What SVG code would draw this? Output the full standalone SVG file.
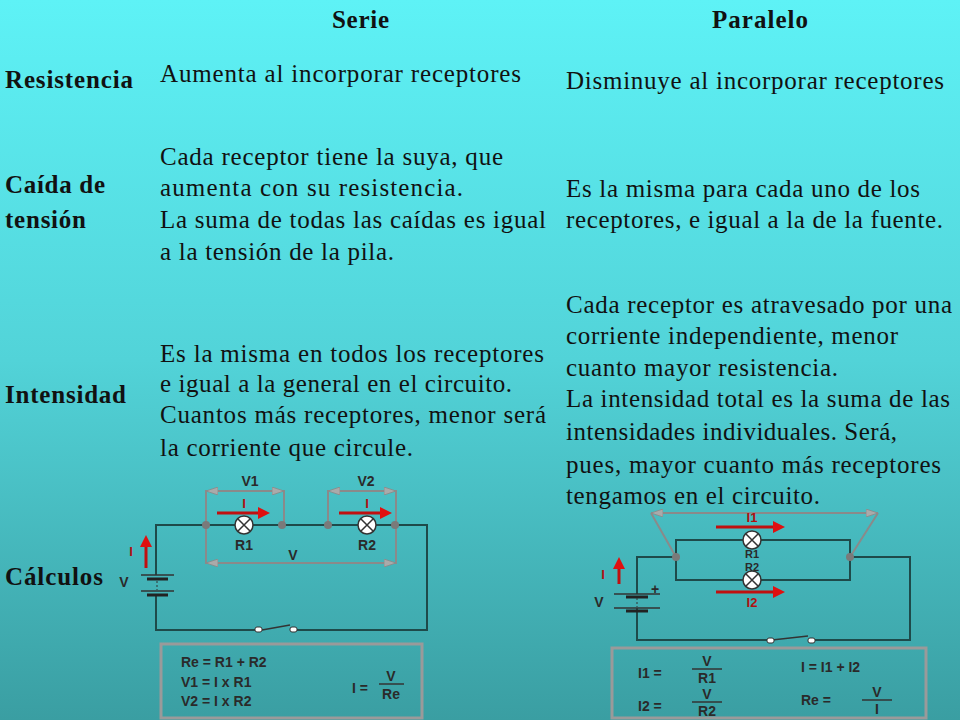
<svg xmlns="http://www.w3.org/2000/svg" width="960" height="720" viewBox="0 0 960 720">
<defs>
<linearGradient id="bg" x1="0" y1="0" x2="0" y2="1">
<stop offset="0" stop-color="#5ef2f6"/><stop offset="0.5" stop-color="#52d3d8"/><stop offset="1" stop-color="#3a9ea2"/>
</linearGradient>
<marker id="ra" markerWidth="4" markerHeight="4" refX="2" refY="2" orient="auto"><path d="M0,0 L4,2 L0,4z" fill="#e01010"/></marker>
<marker id="ga" markerWidth="6" markerHeight="4" refX="6" refY="2" orient="auto-start-reverse"><path d="M0,0 L6,2 L0,4z" fill="#aaa" stroke="#888" stroke-width="0.4"/></marker>
</defs>
<style>
.t{font-family:"Liberation Serif","Times New Roman",serif;font-size:25px;fill:#111}
.b{font-weight:bold}
.c{font-family:"Liberation Sans",Arial,sans-serif;font-weight:bold;font-size:14px;fill:#2a2a2a}
.s{font-size:11px}
.cr{font-family:"Liberation Sans",Arial,sans-serif;font-weight:bold;font-size:13px;fill:#b01010}
.w{stroke:#1e4a4a;stroke-width:2;fill:none}
.g{stroke:#8a8a8a;stroke-width:2;fill:none}
.ar{stroke:#c01010;stroke-width:3;fill:none}
.nd{fill:#7a7a7a}
.lamp{fill:#fff;stroke:#333;stroke-width:1.5}
.box{fill:none;stroke:#9a9a9a;stroke-width:3}
</style>
<rect width="960" height="720" fill="url(#bg)"/>
<g id="headers">
<text class="t b" x="332" y="28" textLength="57">Serie</text>
<text class="t b" x="712" y="28" textLength="96">Paralelo</text>
<text class="t b" x="5" y="88" textLength="128">Resistencia</text>
<text class="t b" x="5" y="193" textLength="100">Caída de</text>
<text class="t b" x="5" y="228" textLength="81">tensión</text>
<text class="t b" x="5" y="403" textLength="121">Intensidad</text>
<text class="t b" x="5" y="585" textLength="98">Cálculos</text>
</g>
<g id="serie-text">
<text class="t" x="160" y="82" textLength="361">Aumenta al incorporar receptores</text>
<text class="t" x="160" y="165" textLength="343">Cada receptor tiene la suya, que</text>
<text class="t" x="160" y="196" textLength="303">aumenta con su resistencia.</text>
<text class="t" x="160" y="228" textLength="386">La suma de todas las caídas es igual</text>
<text class="t" x="160" y="260" textLength="234">a la tensión de la pila.</text>
<text class="t" x="160" y="362" textLength="384">Es la misma en todos los receptores</text>
<text class="t" x="160" y="392" textLength="352">e igual a la general en el circuito.</text>
<text class="t" x="160" y="423" textLength="386">Cuantos más receptores, menor será</text>
<text class="t" x="160" y="456" textLength="253">la corriente que circule.</text>
</g>
<g id="series-circuit">
<path class="w" d="M156,575 V525 H427 V630 H293 M258,630 H156 V595"/>
<path class="g" d="M206,525 V491 H284 V525 M328,525 V491 H396 V525 M206,525 V563 H396 V525"/>
<path class="g" d="M206,491 H284" marker-start="url(#ga)" marker-end="url(#ga)"/>
<path class="g" d="M328,491 H396" marker-start="url(#ga)" marker-end="url(#ga)"/>
<path class="g" d="M206,563 H396" marker-start="url(#ga)" marker-end="url(#ga)"/>
<circle class="nd" cx="206" cy="525" r="4"/><circle class="nd" cx="282" cy="525" r="4"/>
<circle class="nd" cx="328" cy="525" r="4"/><circle class="nd" cx="395" cy="525" r="4"/>
<g class="lamp"><circle cx="244" cy="525" r="9"/><path d="M238,519 L250,531 M250,519 L238,531"/></g>
<g class="lamp"><circle cx="367" cy="525" r="9"/><path d="M361,519 L373,531 M373,519 L361,531"/></g>
<path class="ar" d="M217,513 H264" marker-end="url(#ra)"/>
<path class="ar" d="M339,513 H386" marker-end="url(#ra)"/>
<path class="ar" d="M146,568 V541" marker-end="url(#ra)"/>
<text class="cr" x="244" y="508" text-anchor="middle">I</text>
<text class="cr" x="367" y="508" text-anchor="middle">I</text>
<text class="cr" x="131" y="556" text-anchor="middle">I</text>
<text class="c" x="250" y="486" text-anchor="middle">V1</text>
<text class="c" x="366" y="486" text-anchor="middle">V2</text>
<text class="c" x="244" y="550" text-anchor="middle">R1</text>
<text class="c" x="367" y="550" text-anchor="middle">R2</text>
<text class="c" x="293" y="560" text-anchor="middle">V</text>
<text class="c" x="124" y="587" text-anchor="middle">V</text>
<path d="M141,575 H174 M141,591 H174" stroke="#333" stroke-width="1.5"/>
<path d="M147,579 H168 M147,595 H168" stroke="#222" stroke-width="3"/>
<path d="M157,581 V590" stroke="#333" stroke-width="1" stroke-dasharray="2,2"/>
<path d="M262,630 L290,625" stroke="#333" stroke-width="1.5"/>
<rect x="255" y="627" width="7" height="5" rx="2" fill="#fff" stroke="#333"/>
<rect x="290" y="627" width="7" height="5" rx="2" fill="#fff" stroke="#333"/>
<rect class="box" x="161" y="644" width="261" height="74"/>
<text class="c" x="181" y="667">Re = R1 + R2</text>
<text class="c" x="181" y="687">V1 = I x R1</text>
<text class="c" x="181" y="706">V2 = I x R2</text>
<text class="c" x="352" y="693">I =</text>
<text class="c" x="391" y="681" text-anchor="middle">V</text>
<path d="M379,684 H404" stroke="#333" stroke-width="1.5"/>
<text class="c" x="391" y="699" text-anchor="middle">Re</text>
</g>
<g id="parallel-circuit">
<path class="w" d="M637,594 V557 H676 M850,557 H910 V640 H814 M768,640 H637 V608 M676,540 V580 H850 V540 Z"/>
<path class="g" d="M676,557 L651,513 M878,513 L850,557"/>
<path class="g" d="M651,513 H878" marker-start="url(#ga)" marker-end="url(#ga)"/>
<circle class="nd" cx="676" cy="557" r="4"/><circle class="nd" cx="850" cy="557" r="4"/>
<g class="lamp"><circle cx="752" cy="540" r="9"/><path d="M746,534 L758,546 M758,534 L746,546"/></g>
<g class="lamp"><circle cx="752" cy="580" r="9"/><path d="M746,574 L758,586 M758,574 L746,586"/></g>
<path class="ar" d="M716,527 H779" marker-end="url(#ra)"/>
<path class="ar" d="M716,592 H779" marker-end="url(#ra)"/>
<path class="ar" d="M619,584 V563" marker-end="url(#ra)"/>
<text class="cr" x="752" y="522" text-anchor="middle">I1</text>
<text class="cr" x="752" y="607" text-anchor="middle">I2</text>
<text class="cr" x="603" y="579" text-anchor="middle">I</text>
<text class="c s" x="752" y="558" text-anchor="middle">R1</text>
<text class="c s" x="752" y="571" text-anchor="middle">R2</text>
<text class="c" x="599" y="607" text-anchor="middle">V</text>
<text class="c" x="655" y="594" text-anchor="middle">+</text>
<path d="M614,594 H660 M614,608 H660" stroke="#333" stroke-width="1.5"/>
<path d="M626,597 H648 M626,611 H648" stroke="#222" stroke-width="3"/>
<path d="M637,598 V607" stroke="#333" stroke-width="1" stroke-dasharray="2,2"/>
<path d="M772,640 L808,636" stroke="#333" stroke-width="1.5"/>
<rect x="767" y="638" width="7" height="5" rx="2" fill="#fff" stroke="#333"/>
<rect x="808" y="638" width="7" height="5" rx="2" fill="#fff" stroke="#333"/>
<rect class="box" x="612" y="648" width="314" height="70"/>
<text class="c" x="638" y="678">I1 =</text>
<text class="c" x="707" y="666" text-anchor="middle">V</text>
<path d="M692,669 H722" stroke="#333" stroke-width="1.5"/>
<text class="c" x="707" y="683" text-anchor="middle">R1</text>
<text class="c" x="638" y="711">I2 =</text>
<text class="c" x="707" y="699" text-anchor="middle">V</text>
<path d="M692,702 H722" stroke="#333" stroke-width="1.5"/>
<text class="c" x="707" y="716" text-anchor="middle">R2</text>
<text class="c" x="801" y="672">I = I1 + I2</text>
<text class="c" x="801" y="705">Re =</text>
<text class="c" x="877" y="697" text-anchor="middle">V</text>
<path d="M862,700 H892" stroke="#333" stroke-width="1.5"/>
<text class="c" x="877" y="714" text-anchor="middle">I</text>
</g>
<g id="paralelo-text">
<text class="t" x="566" y="89" textLength="378">Disminuye al incorporar receptores</text>
<text class="t" x="566" y="197" textLength="354">Es la misma para cada uno de los</text>
<text class="t" x="566" y="228" textLength="377">receptores, e igual a la de la fuente.</text>
<text class="t" x="566" y="313" textLength="386">Cada receptor es atravesado por una</text>
<text class="t" x="566" y="344" textLength="332">corriente independiente, menor</text>
<text class="t" x="566" y="376" textLength="272">cuanto mayor resistencia.</text>
<text class="t" x="566" y="407" textLength="384">La intensidad total es la suma de las</text>
<text class="t" x="566" y="440" textLength="331">intensidades individuales. Será,</text>
<text class="t" x="566" y="473" textLength="375">pues, mayor cuanto más receptores</text>
<text class="t" x="566" y="504" textLength="254">tengamos en el circuito.</text>
</g>
</svg>
